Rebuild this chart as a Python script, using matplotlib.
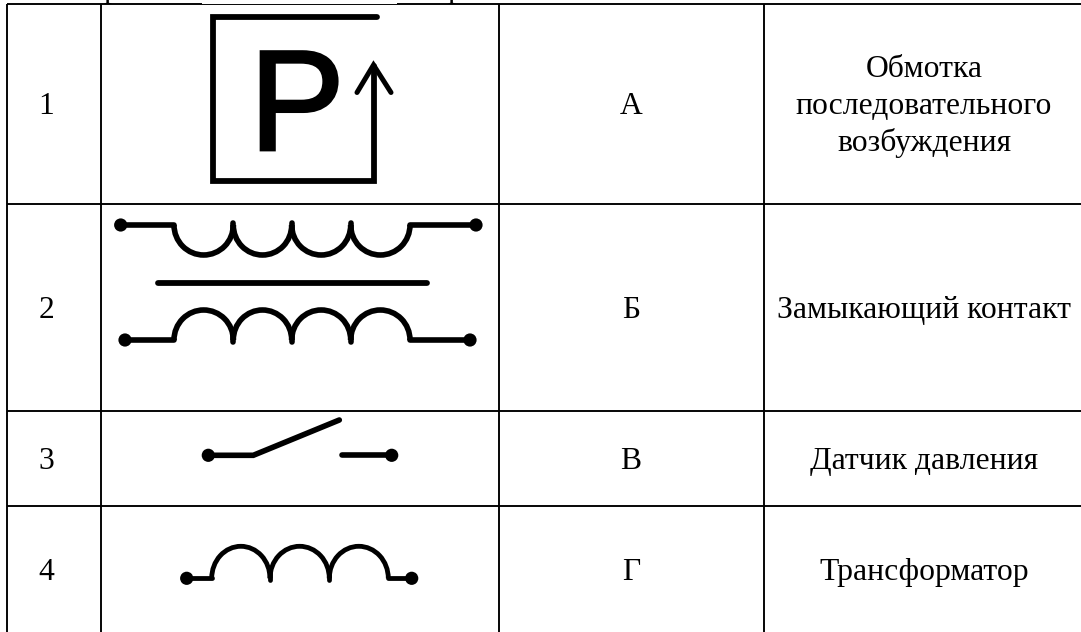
import matplotlib
matplotlib.use("Agg")
import matplotlib.pyplot as plt
import matplotlib.patheffects as pe
from matplotlib.patches import Arc, Circle, Rectangle

# table grid, in pixels of the original picture
col_edges = [7, 100.7, 498.5, 764]
row_edges = [4, 203.7, 410.7, 505.7]

numbers = ['1', '2', '3', '4']
letters = ['А', 'Б', 'В', 'Г']
terms = ['Обмотка\nпоследовательного\nвозбуждения', 'Замыкающий контакт',
         'Датчик давления', 'Трансформатор']
number_x = 46
letter_x = 631
term_x = 924
row_baselines = [114, 318, 469, 580]
term1_baselines = [76.7, 114, 150.7]

# pressure sensor symbol
box_x = [377, 213, 213, 373.5, 373.5]
box_y = [17, 17, 181, 181, 66]
arrow_x = [357, 373.5, 391]
arrow_y = [92.5, 65, 92.5]

# transformer
coil_cusps = [174, 233.3, 291.7, 350.7, 410]
top_wire_y = 225
bottom_wire_y = 340
top_dots = [120.7, 476]
bottom_dots = [125, 470]
core_x = [158, 427]
core_y = 283.3

# switch
sw_left_x = [208.3, 253.3, 339.3]
sw_left_y = [455.3, 455.3, 420]
sw_right_x = [342.3, 391.7]
sw_right_y = [455.3, 455.3]

# winding
wind_cusps = [211.7, 270, 329.3, 388.3]
wind_y = 578.3
wind_dots = [186.7, 411.7]

px = 0.72  # line width: one pixel in points at dpi 100

fig = plt.figure(figsize=(10.81, 6.32), dpi=100)
ax = fig.add_axes([0, 0, 1, 1])
ax.set_xlim(0, 1081)
ax.set_ylim(632, 0)
ax.axis('off')

plt.rcParams['font.family'] = ['Liberation Serif', 'DejaVu Sans']
fs = 22.8

# grid
for x in col_edges:
    ax.plot([x, x], [row_edges[0], 632], color='black', lw=1.9 * px, solid_capstyle='butt')
for y in row_edges:
    ax.plot([col_edges[0], 1081], [y, y], color='black', lw=1.9 * px, solid_capstyle='butt')
# the pasted picture hides the upper part of the top rule
ax.add_patch(Rectangle((202, 0), 195, 3.9, color='white', lw=0, zorder=3))

# bottoms of the cut off line above the table
for x in [111, 455]:
    ax.text(x, -3, 'р', fontsize=fs, ha='center', va='baseline', clip_on=True)

# text cells
for i in range(4):
    ax.text(number_x, row_baselines[i], numbers[i], fontsize=fs, ha='center', va='baseline')
    ax.text(letter_x, row_baselines[i], letters[i], fontsize=fs, ha='center', va='baseline')
    if i == 0:
        for line, y in zip(terms[0].split('\n'), term1_baselines):
            ax.text(term_x, y, line, fontsize=fs, ha='center', va='baseline')
    else:
        ax.text(term_x, row_baselines[i], terms[i], fontsize=fs, ha='center', va='baseline')


def wire(xs, ys, lw=5.6):
    ax.plot(xs, ys, color='black', lw=lw * px, solid_capstyle='round',
            solid_joinstyle='miter')


def dots(xs, y, r=6.6):
    for x in xs:
        ax.add_patch(Circle((x, y), r, color='black', lw=0))


def coil(cusps, y, ry, down, lw=5.6):
    # one half ellipse between each pair of neighbouring cusps
    for a, b in zip(cusps[:-1], cusps[1:]):
        t1, t2 = (0, 180) if down else (180, 360)
        ax.add_patch(Arc(((a + b) / 2, y), b - a, 2 * ry, theta1=t1, theta2=t2,
                         color='black', lw=lw * px))
    # short stems where two turns meet
    stem = 9 if down else -9
    for c in cusps[1:-1]:
        wire([c, c], [y - 2 if down else y + 2, y + stem], lw)


# 1: pressure sensor
wire(box_x, box_y, 5.8)
wire(arrow_x, arrow_y, 5.0)
ax.text(297, 150, 'P', fontsize=103, family='Liberation Sans', ha='center', va='baseline',
        path_effects=[pe.withStroke(linewidth=2.0, foreground='black', joinstyle='miter')])

# 2: transformer
wire([top_dots[0], coil_cusps[0]], [top_wire_y, top_wire_y])
wire([coil_cusps[-1], top_dots[1]], [top_wire_y, top_wire_y])
coil(coil_cusps, top_wire_y, 30, True)
wire(core_x, [core_y, core_y], 5.8)
wire([bottom_dots[0], coil_cusps[0]], [bottom_wire_y, bottom_wire_y])
wire([coil_cusps[-1], bottom_dots[1]], [bottom_wire_y, bottom_wire_y])
coil(coil_cusps, bottom_wire_y, 30, False)
dots(top_dots, top_wire_y)
dots(bottom_dots, bottom_wire_y)

# 3: open contact
wire(sw_left_x, sw_left_y)
wire(sw_right_x, sw_right_y)
dots([sw_left_x[0], sw_right_x[1]], sw_left_y[0])

# 4: winding
wire([wind_dots[0], wind_cusps[0]], [wind_y, wind_y], 4.8)
wire([wind_cusps[-1], wind_dots[1]], [wind_y, wind_y], 4.8)
coil(wind_cusps, wind_y, 32, False, 4.8)
dots(wind_dots, wind_y)

fig.savefig('out.png', dpi=100)
